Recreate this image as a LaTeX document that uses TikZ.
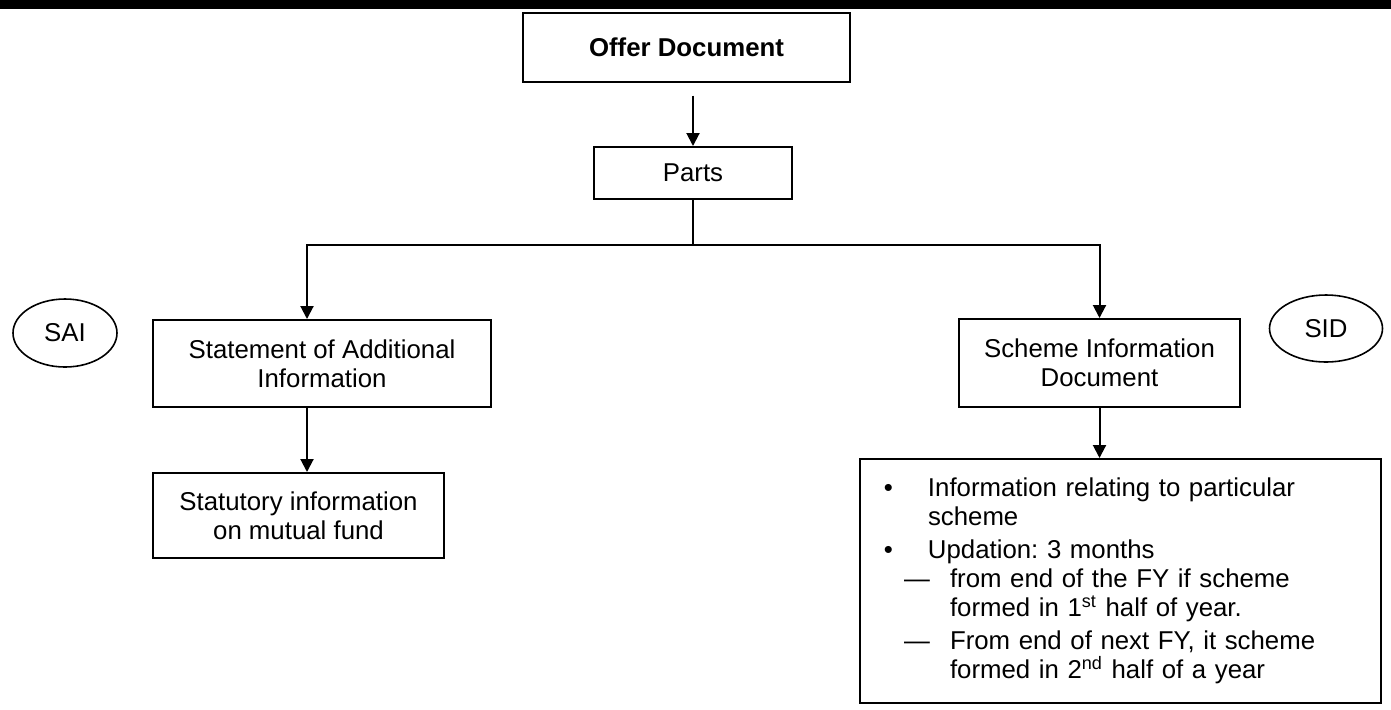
\documentclass[tikz,border=0pt]{standalone}
\usepackage{fontspec}
\setmainfont{Liberation Sans}
\usepackage{tikz}
\usetikzlibrary{shapes.geometric, arrows.meta, positioning}

% bullet and dash lines for the scheme box
\newcommand{\sdbullet}{\hangindent=34pt\hangafter=0\noindent\llap{\textbullet\hspace{17.5pt}}}
\newcommand{\sddash}{\hangindent=45pt\hangafter=0\noindent\llap{\textemdash\hspace{10pt}}}

\begin{document}
\frenchspacing
\begin{tikzpicture}[x=0.5pt, y=-0.5pt,
    font=\fontsize{12.9}{14.5}\selectfont,
    box/.style={draw, line width=1pt, align=center, inner sep=0pt},
    tag/.style={draw, ellipse, line width=0.8pt, inner sep=0pt},
    link/.style={line width=1pt},
    arrow/.style={line width=1pt, -{Triangle[length=6.5pt, width=6.5pt]}}]

    % picture is laid out in pixels of the page (y down)
    \useasboundingbox (0,0) rectangle (1391,709);
    \fill[black] (0,0) rectangle (1391,9);

    % === Offer document and its parts ===
    \node[box, minimum width=163.5pt, minimum height=34.5pt,
          font=\fontsize{12.9}{14.5}\selectfont\bfseries] (offer) at (686.5,47) {Offer Document};
    \node[box, minimum width=99pt, minimum height=26pt] (parts) at (693,173) {Parts};
    \coordinate (split) at (693,245);

    % === Left branch: SAI ===
    \node[tag, minimum width=52pt, minimum height=34pt] (saitag) at (65,333) {SAI};
    \node[box, minimum width=169pt, minimum height=43.5pt] (sai) at (322,363.5) {Statement of Additional\\Information};
    \node[box, minimum width=145.5pt, minimum height=42.5pt] (stat) at (298.5,515.5) {Statutory information\\on mutual fund};
    \coordinate (saiin) at ([xshift=-7.5pt]sai.north);
    \coordinate (saiout) at ([xshift=-7.5pt]sai.south);

    % === Right branch: SID ===
    \node[tag, minimum width=56.5pt, minimum height=33.5pt] (sidtag) at (1326,328.5) {SID};
    \node[box, minimum width=140.5pt, minimum height=44pt] (sid) at (1099.5,363) {Scheme Information\\Document};
    \node[box, text width=260.5pt, minimum height=122pt, align=left] (detail) at (1120.5,581) {%
        {\sdbullet Information relating to particular\newline scheme\par}
        \vspace{2pt}
        {\sdbullet Updation: 3 months\par}
        {\sddash from end of the FY if scheme\newline formed in 1\textsuperscript{st} half of year.\par}
        \vspace{2pt}
        {\sddash From end of next FY, it scheme\newline formed in 2\textsuperscript{nd} half of a year\par}
    };

    % === connectors ===
    \draw[arrow, shorten <=6.5pt] (offer.south -| parts.north) -- (parts.north);
    \draw[link] (parts.south) -- (split);
    \draw[arrow] (split) -| (saiin);
    \draw[arrow] (split) -| (sid.north);
    \draw[arrow] (saiout) -- (saiout |- stat.north);
    \draw[arrow] (sid.south) -- (sid.south |- detail.north);

\end{tikzpicture}
\end{document}
